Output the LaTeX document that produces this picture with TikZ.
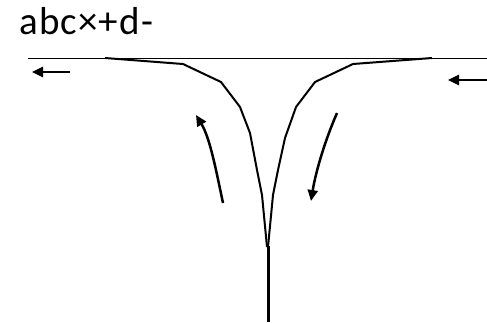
\documentclass[tikz,border=0pt]{standalone}
\usepackage{fontspec}
\setmainfont{Carlito}
\usetikzlibrary{arrows.meta}

\begin{document}
\begin{tikzpicture}[x=1pt,y=-1pt,
  thin line/.style={line width=1pt},
  funnel/.style={line width=2pt,line join=round},
  stem/.style={line width=3pt},
  ar/.style={-{Triangle[length=11pt,width=10pt]},line width=2.5pt}]
\useasboundingbox (0,0) rectangle (487,322);

\node[anchor=base west,inner sep=0pt,
  font=\fontsize{39}{45}\selectfont\addfontfeature{LetterSpace=3}] (title) at (19,34) {abc×+d-};

% surface
\draw[thin line] (28,58) -- (487,58);

% funnel walls
\draw[funnel] (105,58) -- (183,64) -- (221,82) -- (240,107) -- (250,133)
  -- (257,170) -- (262,195) -- (267,247);
\draw[funnel] (432,58) -- (353,64) -- (315,82) -- (296,107) -- (285,138)
  -- (278,170) -- (273,195) -- (268,247);
\draw[stem] (268,246) coordinate (tip) -- (268,322) coordinate (bottom);

% flow arrows
\coordinate (l0) at (70,72);  \coordinate (l1) at (32,72);
\coordinate (r0) at (487,80); \coordinate (r1) at (448,80);
\draw[ar] (l0) -- (l1);
\draw[ar] (r0) -- (r1);
\coordinate (a0) at (223,203); \coordinate (a1) at (196,115);
\coordinate (b0) at (337,113); \coordinate (b1) at (311,201);
\draw[ar] (a0) .. controls (216,170) and (210,138) .. (a1);
\draw[ar] (b0) .. controls (326,138) and (316,170) .. (b1);
\end{tikzpicture}
\end{document}
